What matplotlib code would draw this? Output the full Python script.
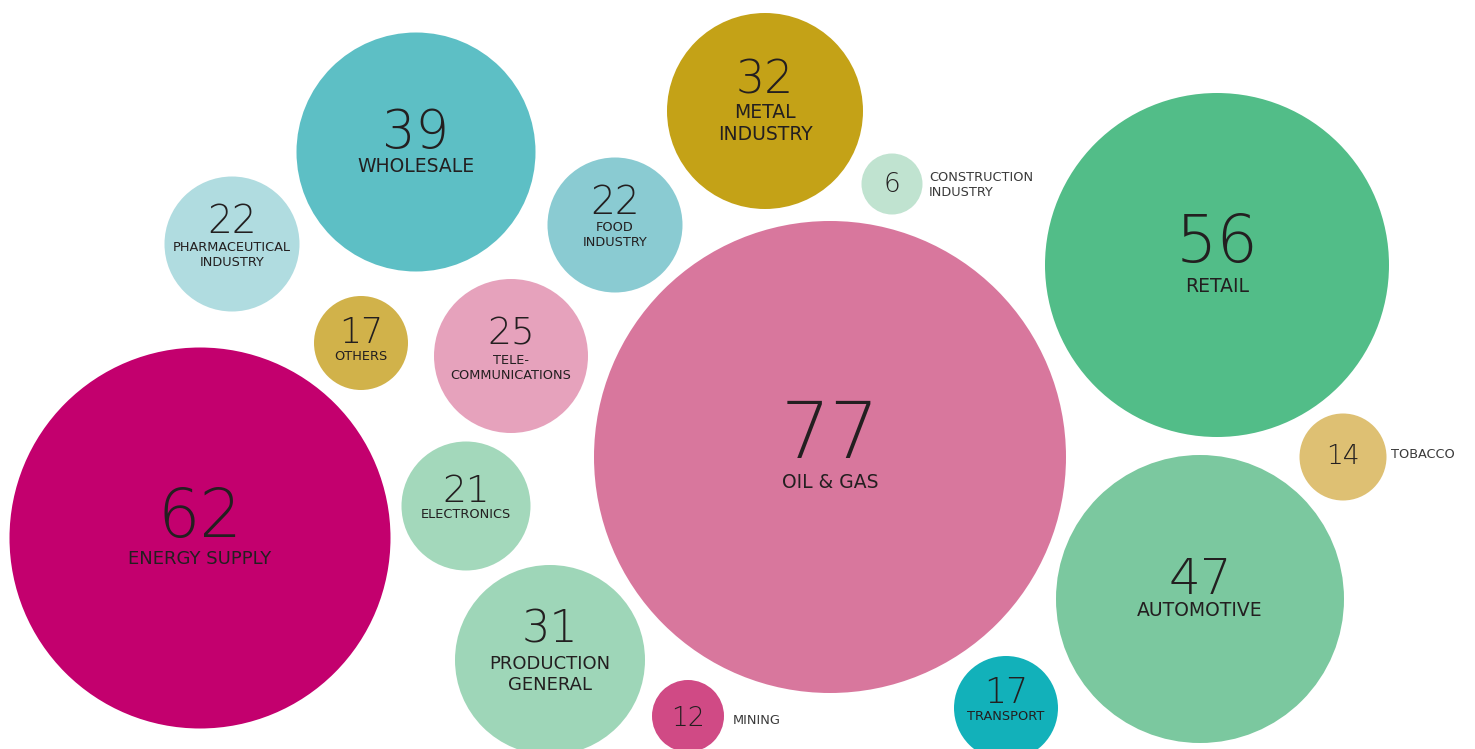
import matplotlib
matplotlib.use("Agg")
import matplotlib.pyplot as plt
from matplotlib.patches import Circle

# ---- data ----
categories = ["WHOLESALE", "METAL\nINDUSTRY", "PHARMACEUTICAL\nINDUSTRY", "FOOD\nINDUSTRY",
              "CONSTRUCTION\nINDUSTRY", "RETAIL", "OTHERS", "TELE-\nCOMMUNICATIONS",
              "OIL & GAS", "ENERGY SUPPLY", "ELECTRONICS", "PRODUCTION\nGENERAL",
              "AUTOMOTIVE", "TRANSPORT", "TOBACCO", "MINING"]
values = [39, 32, 22, 22, 6, 56, 17, 25, 77, 62, 21, 31, 47, 17, 14, 12]

# ---- layout (pixel space) ----
cx = [416, 765, 232, 615, 892, 1217, 361, 511, 830, 200, 466, 550, 1200, 1006, 1343, 688]
cy = [152, 111, 244, 225, 184, 265, 343, 356, 457, 538, 506, 660, 599, 708, 457, 716]
rad = [119.5, 98, 67.5, 67.5, 30.5, 172, 47, 77, 236, 190.5, 64.5, 95, 144, 52, 43.5, 36]
colors = ["#5DBFC5", "#C4A217", "#B0DCE0", "#8ACBD2", "#C0E3D0", "#52BD88", "#D1B24A",
          "#E6A2BC", "#D8779D", "#C3006E", "#A3D8BB", "#9ED6B8", "#7BC89F", "#12B1BA",
          "#DEC073", "#D04A85"]
num_y = [133, 81, 222, 203, 184, 244, 333, 334, 436, 518, 491, 630, 580, 693, 457, 718]
num_size = [38, 33, 28, 28, 19, 47, 25, 27, 56, 48, 27, 32, 36, 25, 19, 19]
lab_y = [167, 124, 255, 235, 185, 287, 356, 368, 483, 559, 515, 674.5, 611, 717, 455, 721]
lab_size = [13.5, 13.5, 9.3, 9.3, 9.3, 13.5, 9.3, 9.3, 13.5, 13, 9.3, 13, 13.5, 9.3, 9.3, 9.3]
lab_spacing = [1.0, 1.2, 1.25, 1.25, 1.2, 1.0, 1.0, 1.2, 1.0, 1.0, 1.0, 1.2, 1.0, 1.0, 1.0, 1.0]
# outside labels: left x, else None (centered in circle)
lab_x_out = [None, None, None, None, 929, None, None, None, None, None, None, None, None,
             None, 1391, 733]

W, H = 1475, 749
fig = plt.figure(figsize=(W / 100, H / 100), dpi=100)
ax = fig.add_axes([0, 0, 1, 1])
ax.set_xlim(0, W)
ax.set_ylim(H, 0)
ax.set_aspect("equal")
ax.axis("off")

FONT = ["DejaVu Sans"]
txt = "#231F20"

for i, v in enumerate(values):
    ax.add_patch(Circle((cx[i], cy[i]), rad[i], facecolor=colors[i], edgecolor="none"))
    ax.text(cx[i], num_y[i], str(v), ha="center", va="center", fontsize=num_size[i],
            family=FONT, fontweight="light", color=txt)
    if lab_x_out[i] is None:
        ax.text(cx[i], lab_y[i], categories[i], ha="center", va="center",
                fontsize=lab_size[i], family=FONT, fontweight="normal", color=txt,
                linespacing=lab_spacing[i], multialignment="center")
    else:
        ax.text(lab_x_out[i], lab_y[i], categories[i], ha="left", va="center",
                fontsize=lab_size[i], family=FONT, fontweight="normal", color="#3a3a3a",
                linespacing=lab_spacing[i])

fig.savefig("out.png", dpi=100)
